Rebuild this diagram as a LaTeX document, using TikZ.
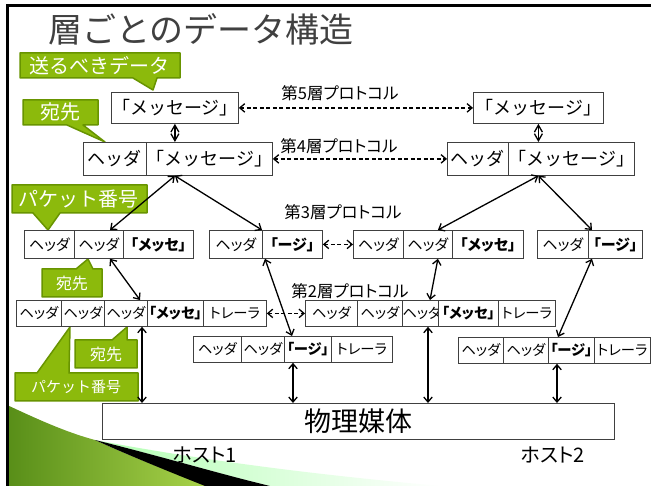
\documentclass[tikz,border=0pt]{standalone}
\usepackage{fontspec}
\setmainfont[RawFeature=+palt]{Noto Sans CJK JP}
\newfontfamily\fwfont{Noto Sans CJK JP}
\usetikzlibrary{arrows.meta,calc}
\definecolor{calfill}{RGB}{140,186,12}
\definecolor{caldraw}{RGB}{104,148,0}
\definecolor{ttl}{RGB}{64,64,64}
\definecolor{gdark}{RGB}{88,142,24}
\definecolor{glight}{RGB}{170,212,75}
\newcommand\fs[1]{\fontsize{#1}{#1}\selectfont}
\begin{document}
\begin{tikzpicture}[x=1pt,y=-1pt,
 cell/.style 2 args={draw=black!75, line width=0.8pt, fill=white, inner sep=0pt, anchor=north west, minimum width=#1, minimum height=#2},
 big/.style={font=\fwfont\fs{18}},
 mid/.style={font=\fs{15}},
 sml/.style={font=\fs{14.3}},
 arr/.style={{Straight Barb[length=5pt,width=8.5pt]}-{Straight Barb[length=5pt,width=8.5pt]}, line width=1.3pt},
 darr/.style={arr, dash pattern=on 4pt off 2.5pt},
 dia/.style={{Straight Barb[length=7pt,width=8pt]}-{Straight Barb[length=7pt,width=8pt]}, line width=1.3pt},
 callout/.style={fill=calfill, draw=caldraw, line width=1.5pt, line join=round},
 caltext/.style={text=white, inner sep=0pt, font=\fwfont\fs{#1}},
 lbl/.style={font=\fs{16.5}, inner sep=0pt},
]
\useasboundingbox (0,0) rectangle (651,486);
\fill[white] (0,0) rectangle (651,486);

% bottom-left decoration
\shade[left color=green!30!white, right color=white]
  (95,440) .. controls (210,462) and (330,476) .. (440,486) -- (270,486)
  .. controls (220,474) and (160,456) .. (95,440) -- cycle;
\shade[left color=gdark, right color=glight]
  (7,405) .. controls (35,418) and (65,432) .. (95,440)
  .. controls (130,456) and (170,472) .. (210,486) -- (7,486) -- cycle;
\fill[black] (95,440) .. controls (160,456) and (220,474) .. (270,486) -- (205,486)
  .. controls (165,470) and (128,455) .. (95,440) -- cycle;

% frame
\draw[line width=3pt] (7,486) -- (7,6) -- (651,6);

% title
\node[font=\fwfont\fs{34}, text=ttl, inner sep=0pt] (title) at (201,29) {層ごとのデータ構造};

% callouts
\draw[callout] (20,53) -- (180,53) -- (180,78) -- (157,78) -- (153,90) -- (133,78) -- (20,78) -- cycle;
\node[caltext=20] (c1) at (100,66) {送るべきデータ};
\draw[callout] (23,100) -- (98,100) -- (98,125) -- (83,125) -- (105,142) -- (67,125) -- (23,125) -- cycle;
\node[caltext=20] (c2) at (60,112) {宛先};
\draw[callout] (12,185) -- (147,185) -- (147,213) -- (60,213) -- (48,230) -- (33,213) -- (12,213) -- cycle;
\node[caltext=20] (c3) at (79,199) {パケット番号};
\draw[callout] (42,269) -- (76,269) -- (88,259) -- (93,269) -- (102,269) -- (102,297) -- (42,297) -- cycle;
\node[caltext=16] (c4) at (72,283) {宛先};
\draw[callout] (75,340) -- (112,340) -- (127,327) -- (127,340) -- (137,340) -- (137,368) -- (75,368) -- cycle;
\node[caltext=16] (c5) at (106,354) {宛先};
\draw[callout] (15,373) -- (37,373) -- (70,327) -- (69,373) -- (138,373) -- (138,401) -- (15,401) -- cycle;
\node[caltext=15] (c6) at (76,387) {パケット番号};

% layer 5
\node[cell={127pt}{31pt}, big] (t5a) at (111,92) {「メッセージ」};
\node[cell={130pt}{31pt}, big] (t5b) at (473,92) {「メッセージ」};
% layer 4
\node[cell={63pt}{33pt}, big] (h1L4h) at (83,142) {ヘッダ};
\node[cell={126pt}{33pt}, big] (h1L4m) at (146,142) {「メッセージ」};
\node[cell={61pt}{33pt}, big] (h2L4h) at (447,142) {ヘッダ};
\node[cell={124pt}{33pt}, big] (h2L4m) at (508,142) {「メッセージ」};
% layer 3
\node[cell={50pt}{28pt}, mid] (a1) at (24,230) {ヘッダ};
\node[cell={49pt}{28pt}, mid] (a2) at (74,230) {ヘッダ};
\node[cell={70pt}{28pt}, mid] (a3) at (123,230) {\textbf{「メッセ」}};
\node[cell={53pt}{28pt}, mid] (b1) at (209,230) {ヘッダ};
\node[cell={60pt}{28pt}, mid] (b2) at (262,230) {\textbf{「ージ」}};
\node[cell={50pt}{28pt}, mid] (d1c) at (353,230) {ヘッダ};
\node[cell={49pt}{28pt}, mid] (d2c) at (403,230) {ヘッダ};
\node[cell={71pt}{28pt}, mid] (d3c) at (452,230) {\textbf{「メッセ」}};
\node[cell={51pt}{28pt}, mid] (e1d) at (537,230) {ヘッダ};
\node[cell={54pt}{28pt}, mid] (e2d) at (588,230) {\textbf{「ージ」}};
% layer 2
\node[cell={45pt}{26pt}, sml] (e1) at (16,300) {ヘッダ};
\node[cell={43pt}{26pt}, sml] (e2) at (61,300) {ヘッダ};
\node[cell={43pt}{26pt}, sml] (e3) at (104,300) {ヘッダ};
\node[cell={56pt}{26pt}, sml] (e4) at (147,300) {\textbf{「メッセ」}};
\node[cell={63pt}{26pt}, sml] (e5) at (203,300) {トレーラ};
\node[cell={48pt}{26pt}, sml] (f1) at (193,336) {ヘッダ};
\node[cell={43pt}{26pt}, sml] (f2) at (241,336) {ヘッダ};
\node[cell={47pt}{26pt}, sml] (f3) at (284,336) {\textbf{「ージ」}};
\node[cell={61pt}{26pt}, sml] (f4) at (331,336) {トレーラ};
\node[cell={52pt}{26pt}, sml] (g1) at (305,300) {ヘッダ};
\node[cell={45pt}{26pt}, sml] (g2) at (357,300) {ヘッダ};
\node[cell={36pt}{26pt}, sml] (g3) at (402,300) {ヘッダ};
\node[cell={60pt}{26pt}, sml] (g4) at (438,300) {\textbf{「メッセ」}};
\node[cell={57pt}{26pt}, sml] (g5) at (498,300) {トレーラ};
\node[cell={45pt}{26pt}, sml] (k1) at (458,337) {ヘッダ};
\node[cell={45pt}{26pt}, sml] (k2) at (503,337) {ヘッダ};
\node[cell={46pt}{26pt}, sml] (k3) at (548,337) {\textbf{「ージ」}};
\node[cell={56pt}{26pt}, sml] (k4) at (594,337) {トレーラ};
% physical
\node[cell={512pt}{36pt}, font=\fs{27}] (phys) at (102,403) {物理媒体};

% labels
\node[lbl] (p5) at (340,93) {第5層プロトコル};
\node[lbl] (p4) at (339,146) {第4層プロトコル};
\node[lbl] (p3) at (343,212) {第3層プロトコル};
\node[lbl] (p2) at (350,291) {第2層プロトコル};
\node[font=\fs{20}, inner sep=0pt] (host1) at (205,455) {ホスト1};
\node[font=\fs{20}, inner sep=0pt] (host2) at (553,455) {ホスト2};

% connectors
\draw[dia] (t5a.south) -- (t5a.south |- h1L4m.north);
\draw[dia] (t5b.south) -- (t5b.south |- h2L4m.north);
\draw[darr] (t5a.east) -- (t5b.west);
\draw[darr] (h1L4m.east) -- (h2L4h.west);
\draw[darr] (b2.east) -- (d1c.west);
\draw[darr] (e5.east) -- (g1.west);

\coordinate (P1) at (t5a.south |- h1L4m.south);
\coordinate (P2) at (t5b.south |- h2L4m.south);
\draw[arr] (P1) -- ($(a2.north west)+(36,0)$);
\draw[arr] (P1) -- (b2.north west);
\draw[arr] (P2) -- ($(d2c.north)+(10,0)$);
\draw[arr] (P2) -- ($(e2d.north west)+(4,0)$);

\draw[arr] ($(a2.south west)+(36,0)$) -- ($(e3.north west)+(36,0)$);
\draw[arr] ($(b2.south west)+(3,0)$) -- ($(f3.north west)+(8,0)$);
\draw[arr] ($(d2c.south)+(10,0)$) -- ($(g3.north west)+(28,0)$);
\draw[arr] ($(e2d.south west)+(4,0)$) -- ($(k3.north west)+(10,0)$);

\coordinate (q1) at ($(e3.south west)+(38,0)$);
\coordinate (q2) at ($(f3.south west)+(9,0)$);
\coordinate (q3) at ($(g3.south west)+(26,0)$);
\coordinate (q4) at ($(k3.south west)+(9,0)$);
\draw[arr] (q1) -- (q1 |- phys.north);
\draw[arr] (q2) -- (q2 |- phys.north);
\draw[arr] (q3) -- (q3 |- phys.north);
\draw[arr] (q4) -- (q4 |- phys.north);
\end{tikzpicture}
\end{document}
